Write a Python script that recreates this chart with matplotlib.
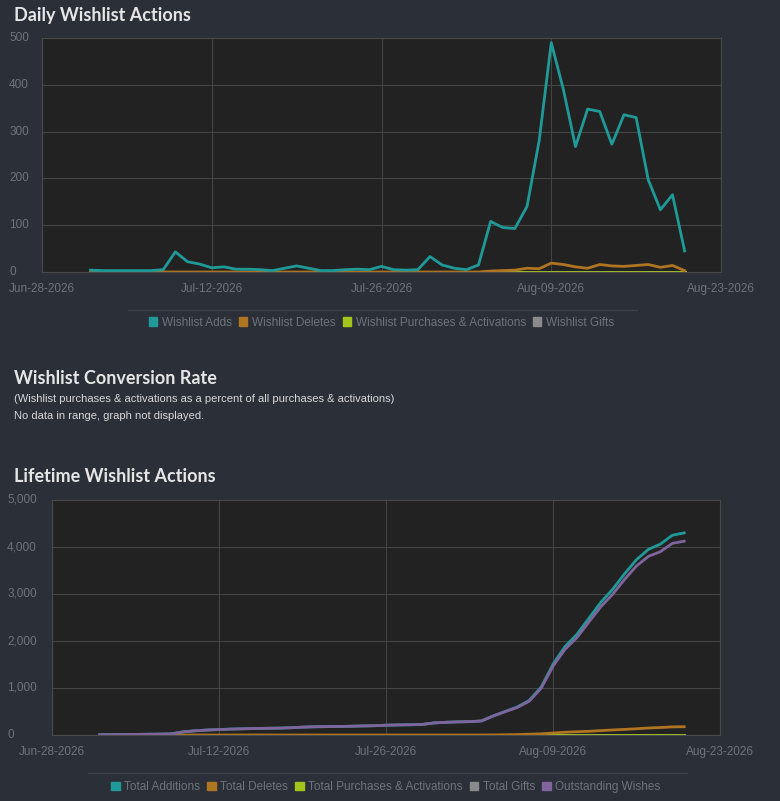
import matplotlib
matplotlib.use('Agg')
import matplotlib.pyplot as plt
import matplotlib.dates as mdates
import numpy as np
import datetime as dt

# daily data, Jul-02-2026 .. Aug-20-2026
start = dt.date(2026, 7, 2)
wishlist_adds = [4, 3, 3, 3, 3, 3, 5, 43, 22, 17, 9, 11, 6, 6, 5, 3, 8, 13, 8, 3,
                 3, 5, 6, 5, 12, 5, 4, 5, 33, 15, 8, 5, 15, 108, 95, 93, 140, 280, 490, 390,
                 268, 348, 343, 273, 336, 330, 197, 133, 165, 45]
wishlist_deletes = [0] * 33 + [2, 3, 4, 8, 7, 19, 16, 11, 8, 16, 13, 12, 14, 16, 10, 14, 3]
wishlist_purchases = [0] * 50
wishlist_gifts = [0] * 50

total_additions = [4, 7, 10, 13, 16, 19, 24, 67, 89, 106, 115, 126, 132, 138, 143, 146, 154, 167, 175, 178,
                   181, 186, 192, 197, 209, 214, 218, 223, 256, 271, 279, 284, 299, 407, 502, 595, 735, 1015, 1505, 1880,
                   2140, 2480, 2820, 3100, 3430, 3730, 3950, 4060, 4250, 4300]
total_deletes = [0] * 33 + [2, 5, 9, 17, 24, 43, 59, 70, 78, 94, 107, 119, 133, 149, 159, 173, 176]
total_purchases = [0] * 50
total_gifts = [0] * 50
outstanding = [a - d for a, d in zip(total_additions, total_deletes)]

dates = [start + dt.timedelta(days=i) for i in range(50)]
ticks = [dt.date(2026, 6, 28) + dt.timedelta(days=14 * i) for i in range(5)]

BG = '#2b2f38'
PLOT_BG = '#222222'
TXT = '#6f737b'
TEAL = '#1f9a98'
ORANGE = '#b07520'
LIME = '#a5c51f'
GRAY = '#8a8a8a'
PURPLE = '#80649e'

plt.rcParams['font.family'] = ['Liberation Sans', 'DejaVu Sans']

fig = plt.figure(figsize=(7.8, 8.01), dpi=100, facecolor=BG)
W, H = 780, 801


def make_ax(l, t, r, b):
    return fig.add_axes([l / W, 1 - b / H, (r - l) / W, (b - t) / H])


def style(ax, ymax, step, fmt, label_x):
    ax.set_facecolor(PLOT_BG)
    ax.set_xlim(ticks[0], ticks[-1])
    ax.set_ylim(0, ymax)
    ax.set_xticks(ticks)
    ax.xaxis.set_major_formatter(mdates.DateFormatter('%b-%d-%Y'))
    ax.set_yticks(np.arange(0, ymax + 1, step))
    ax.yaxis.set_major_formatter(matplotlib.ticker.FuncFormatter(fmt))
    ax.grid(True, color='#444444', lw=0.8)
    ax.set_axisbelow(True)
    for s in ax.spines.values():
        s.set_color('#4a4a4a')
    ax.tick_params(colors=TXT, labelsize=8.5, length=0)
    ax.tick_params(axis='x', pad=8)
    for lab in ax.get_yticklabels():
        lab.set_ha('left')
        lab.set_x(label_x)
        lab.set_va('center')


def legend(ax, items, y):
    handles = [matplotlib.patches.Patch(color=c, label=l) for l, c in items]
    ax.legend(handles=handles, loc='upper center', bbox_to_anchor=(0.5, y), ncol=len(items),
              frameon=False, fontsize=8.5, labelcolor=TXT, handlelength=0.7, handleheight=0.7,
              handletextpad=0.4, columnspacing=0.6)


# Daily
ax1 = make_ax(42, 38, 721, 272)
style(ax1, 500, 100, lambda v, p: f'{int(v)}', -(42 - 14) / (721 - 42))
ax1.plot(dates, wishlist_gifts, color=GRAY, lw=2)
ax1.plot(dates, wishlist_purchases, color=LIME, lw=2)
ax1.plot(dates, wishlist_deletes, color=ORANGE, lw=2)
ax1.plot(dates, wishlist_adds, color=TEAL, lw=2)
legend(ax1, [('Wishlist Adds', TEAL), ('Wishlist Deletes', ORANGE),
             ('Wishlist Purchases & Activations', '#a4c41c'), ('Wishlist Gifts', GRAY)], -0.145)
fig.add_artist(plt.Line2D([128 / W, 637 / W], [1 - 310 / H] * 2, color='#3c404a', lw=1))

# Lifetime
ax2 = make_ax(52, 500, 720, 735)
style(ax2, 5000, 1000, lambda v, p: f'{int(v):,}', -(52 - 12) / (720 - 52))
ax2.plot(dates, total_gifts, color=GRAY, lw=2)
ax2.plot(dates, total_purchases, color=LIME, lw=2)
ax2.plot(dates, total_deletes, color=ORANGE, lw=2)
ax2.plot(dates, total_additions, color=TEAL, lw=2)
ax2.plot(dates, outstanding, color=PURPLE, lw=2)
legend(ax2, [('Total Additions', TEAL), ('Total Deletes', ORANGE),
             ('Total Purchases & Activations', '#a4c41c'), ('Total Gifts', GRAY),
             ('Outstanding Wishes', PURPLE)], -0.15)
fig.add_artist(plt.Line2D([88 / W, 687 / W], [1 - 773 / H] * 2, color='#3c404a', lw=1))

# titles
title_kw = dict(color='#e6e6e6', fontsize=13, fontweight='bold', family=['Lato', 'DejaVu Sans'], va='center')
fig.text(14 / W, 1 - 15 / H, 'Daily Wishlist Actions', **title_kw)
fig.text(14 / W, 1 - 378 / H, 'Wishlist Conversion Rate', **title_kw)
fig.text(14 / W, 1 - 477 / H, 'Lifetime Wishlist Actions', **title_kw)
small_kw = dict(color='#d8d8d8', fontsize=8, family=['Liberation Sans', 'DejaVu Sans'], va='center')
fig.text(14 / W, 1 - 399 / H, '(Wishlist purchases & activations as a percent of all purchases & activations)', **small_kw)
fig.text(14 / W, 1 - 416 / H, 'No data in range, graph not displayed.', **small_kw)

fig.savefig('out.png', dpi=100, facecolor=BG)
